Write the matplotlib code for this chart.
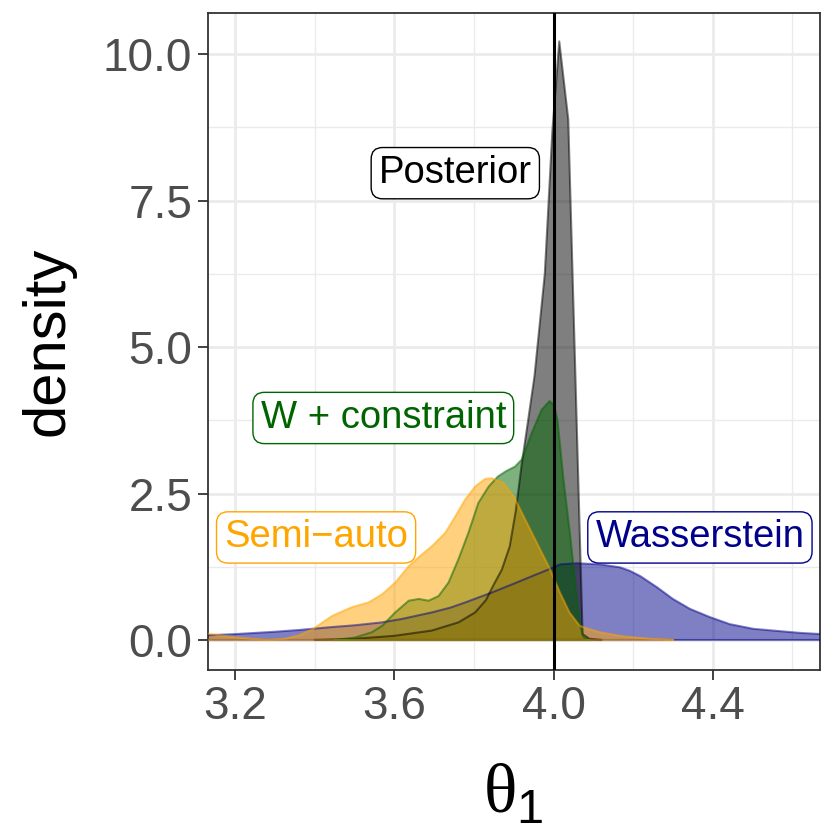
import numpy as np
import matplotlib
matplotlib.use("Agg")
import matplotlib.pyplot as plt
from matplotlib.ticker import MultipleLocator

plt.rcParams['font.family'] = ['Liberation Sans', 'DejaVu Sans']
plt.rcParams['mathtext.fontset'] = 'custom'
plt.rcParams['mathtext.rm'] = 'Liberation Serif'
plt.rcParams['mathtext.sf'] = 'Liberation Sans'

# density curves (x, density)
wass_x = [3.10, 3.13, 3.20, 3.30, 3.36, 3.443, 3.50, 3.569, 3.62, 3.694, 3.74, 3.778,
          3.845, 3.90, 3.95, 3.99, 4.016, 4.058, 4.117, 4.167, 4.192, 4.218, 4.26,
          4.30, 4.343, 4.393, 4.443, 4.502, 4.569, 4.62, 4.70]
wass_y = [0.07, 0.08, 0.10, 0.14, 0.17, 0.22, 0.25, 0.30, 0.36, 0.47, 0.55, 0.64,
          0.81, 0.96, 1.10, 1.21, 1.29, 1.31, 1.29, 1.24, 1.18, 1.09, 0.90,
          0.70, 0.53, 0.39, 0.27, 0.19, 0.15, 0.12, 0.09]

post_x = [3.40, 3.50, 3.60, 3.694, 3.761, 3.803, 3.83, 3.85, 3.87, 3.89, 3.905,
          3.92, 3.935, 3.952, 3.978, 3.997, 4.0144, 4.037, 4.073, 4.09, 4.12]
post_y = [0.0, 0.02, 0.07, 0.16, 0.30, 0.47, 0.68, 0.95, 1.20, 1.60, 2.20,
          3.00, 3.70, 4.50, 6.25, 8.68, 10.22, 8.89, 0.10, 0.02, 0.0]

wc_x = [3.45, 3.50, 3.543, 3.569, 3.602, 3.636, 3.661, 3.686, 3.711, 3.736, 3.761,
        3.786, 3.811, 3.837, 3.86, 3.88, 3.903, 3.92, 3.945, 3.97, 3.99, 4.002,
        4.01, 4.025, 4.042, 4.058, 4.067, 4.075, 4.09]
wc_y = [0.0, 0.04, 0.13, 0.24, 0.47, 0.67, 0.70, 0.67, 0.75, 0.98, 1.38,
        1.83, 2.34, 2.62, 2.79, 2.88, 2.96, 3.08, 3.53, 3.93, 4.08, 4.00,
        3.75, 2.74, 1.77, 0.75, 0.24, 0.05, 0.0]

semi_x = [3.10, 3.13, 3.16, 3.195, 3.24, 3.28, 3.325, 3.36, 3.396, 3.443, 3.493,
          3.535, 3.569, 3.602, 3.636, 3.669, 3.694, 3.728, 3.753, 3.778, 3.803,
          3.828, 3.845, 3.874, 3.90, 3.933, 3.966, 3.991, 4.016, 4.04, 4.066,
          4.083, 4.117, 4.176, 4.243, 4.30]
semi_y = [0.13, 0.11, 0.08, 0.05, 0.02, 0.0, 0.02, 0.08, 0.19, 0.41, 0.56,
          0.64, 0.78, 0.98, 1.26, 1.46, 1.60, 1.83, 2.11, 2.40, 2.62,
          2.75, 2.76, 2.68, 2.45, 2.00, 1.55, 1.21, 0.81, 0.47, 0.24,
          0.20, 0.13, 0.06, 0.02, 0.0]

series = [
    (wass_x, wass_y, 'darkblue'),
    (post_x, post_y, 'black'),
    (wc_x, wc_y, 'darkgreen'),
    (semi_x, semi_y, 'orange'),
]

labels = ['Wasserstein', 'Posterior', 'W + constraint', 'Semi\u2212auto']
label_x = [4.368, 3.753, 3.572, 3.403]
label_y = [1.75, 7.97, 3.79, 1.75]
label_col = ['darkblue', 'black', 'darkgreen', 'orange']

true_value = 4.0

fig = plt.figure(figsize=(8.3, 8.3), dpi=100)
ax = fig.add_axes([0.250, 0.193, 0.738, 0.7917])

for xs, ys, col in series:
    ax.fill_between(xs, ys, 0, facecolor=col, alpha=0.5, edgecolor='none', zorder=2)
    ax.plot(xs, ys, color=col, alpha=0.5, lw=1.5, zorder=3)
    ax.plot([xs[0], xs[-1]], [0, 0], color=col, alpha=0.5, lw=1.5, zorder=3)

ax.axvline(true_value, color='black', lw=2.2, zorder=4)

for t, x, y, c in zip(labels, label_x, label_y, label_col):
    ax.text(x, y, t, color=c, fontsize=27.5, ha='center', va='center', zorder=6,
            bbox=dict(boxstyle='round,pad=0.2,rounding_size=0.3', fc='white',
                      ec=c, lw=1.0))

ax.set_xlim(3.13, 4.67)
ax.set_ylim(-0.51, 10.71)
ax.xaxis.set_minor_locator(MultipleLocator(0.2))
ax.set_xticks([3.2, 3.6, 4.0, 4.4])
ax.set_xticklabels(['3.2', '3.6', '4.0', '4.4'])
ax.yaxis.set_major_locator(MultipleLocator(2.5))
ax.yaxis.set_minor_locator(MultipleLocator(1.25))
ax.yaxis.set_major_formatter(matplotlib.ticker.FormatStrFormatter('%.1f'))

ax.grid(True, which='major', color='#EBEBEB', lw=2.0, zorder=0)
ax.grid(True, which='minor', color='#EBEBEB', lw=1.0, zorder=0)
ax.set_axisbelow(True)
ax.tick_params(which='major', length=7, width=1.3, color='#333333',
               labelsize=33, labelcolor='#4D4D4D', pad=4)
ax.tick_params(which='minor', length=0)
for s in ax.spines.values():
    s.set_color('#333333')
    s.set_linewidth(1.3)

ax.set_ylabel('density', fontsize=43, labelpad=20)
ax.set_xlabel(r'$\mathrm{θ}_{\mathsf{1}}$', fontsize=50, labelpad=24)

fig.savefig('out.png', dpi=100)
